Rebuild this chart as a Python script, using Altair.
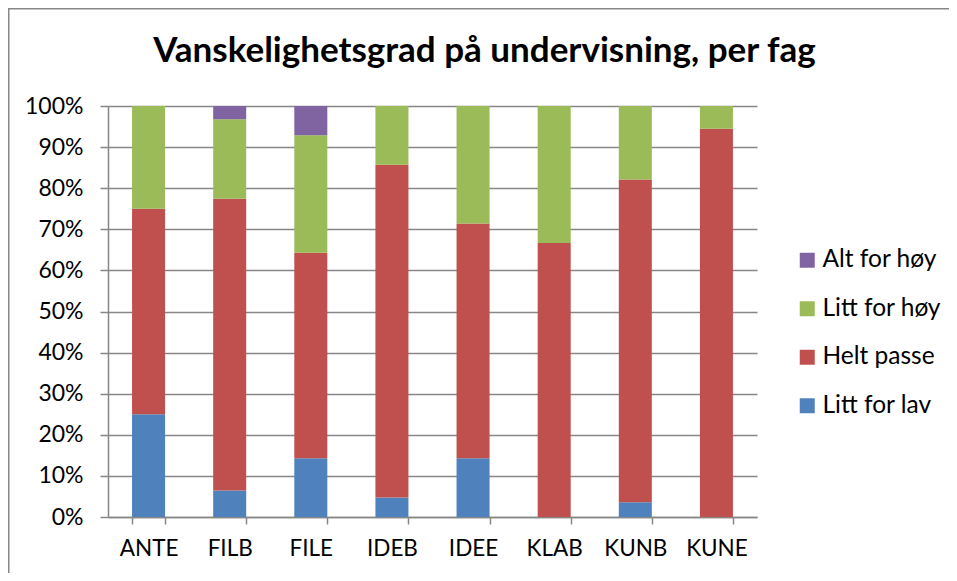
import altair as alt
import pandas as pd

categories = ["ANTE", "FILB", "FILE", "IDEB", "IDEE", "KLAB", "KUNB", "KUNE"]
litt_for_lav = [25.0, 6.45, 14.29, 4.76, 14.29, 0.0, 3.57, 0.0]
helt_passe = [50.0, 70.97, 50.0, 80.95, 57.14, 66.67, 78.57, 94.44]
litt_for_hoy = [25.0, 19.35, 28.57, 14.29, 28.57, 33.33, 17.86, 5.56]
alt_for_hoy = [0.0, 3.23, 7.14, 0.0, 0.0, 0.0, 0.0, 0.0]
series_names = ["Litt for lav", "Helt passe", "Litt for høy", "Alt for høy"]
series_colors = ["#4F81BD", "#C0504D", "#9BBB59", "#8064A2"]
title_text = "Vanskelighetsgrad på undervisning, per fag"

rows = []
for k, (name, vals) in enumerate(zip(series_names, [litt_for_lav, helt_passe, litt_for_hoy, alt_for_hoy])):
    for c, v in zip(categories, vals):
        rows.append({"fag": c, "svar": name, "andel": v, "rekke": k})
df = pd.DataFrame(rows)

W, H = 649, 411
FONT = "Lato"
GRID = "#878787"

bars = alt.Chart(df).mark_bar().encode(
    x=alt.X("fag:N", sort=categories, title=None,
            scale=alt.Scale(paddingInner=0.593, paddingOuter=0.2965),
            axis=alt.Axis(labelAngle=0, tickBand="extent", tickSize=7, tickColor=GRID,
                          tickWidth=1.5, domainColor=GRID, domainWidth=1.5,
                          labelFont=FONT, labelFontSize=22.5, labelColor="black",
                          labelPadding=13, grid=False)),
    y=alt.Y("andel:Q", stack="normalize", title=None,
            scale=alt.Scale(domain=[0, 1]),
            axis=alt.Axis(format=".0%", values=[i / 10 for i in range(11)],
                          tickSize=8, tickColor=GRID, tickWidth=1.5,
                          domainColor=GRID, domainWidth=1.5,
                          gridColor=GRID, gridWidth=1.5,
                          labelFont=FONT, labelFontSize=23, labelColor="black",
                          labelPadding=17)),
    color=alt.Color("svar:N",
                    scale=alt.Scale(domain=series_names[::-1], range=series_colors[::-1]),
                    legend=alt.Legend(title=None, orient="none", legendX=687, legendY=142,
                                      symbolType="square", symbolSize=225,
                                      symbolStrokeWidth=0, labelFont=FONT,
                                      labelFontSize=24.5, labelColor="black",
                                      rowPadding=23.5, labelOffset=3, padding=0)),
    order=alt.Order("rekke:Q", sort="ascending"),
)

one = pd.DataFrame({"a": [0]})
title_mark = alt.Chart(one).mark_text(
    font=FONT, fontSize=35, fontWeight="bold", color="black",
    align="center", baseline="alphabetic").encode(
    x=alt.value(W / 2 + 52), y=alt.value(-44), text=alt.value(title_text))
border_top = alt.Chart(one).mark_rule(color="#878787", strokeWidth=2).encode(
    x=alt.value(-100), x2=alt.value(W + 200), y=alt.value(-97.5))
border_left = alt.Chart(one).mark_rule(color="#878787", strokeWidth=2).encode(
    x=alt.value(-99.5), y=alt.value(-98), y2=alt.value(H + 70))

chart = alt.layer(bars, title_mark, border_top, border_left).properties(
    width=W, height=H,
    padding={"left": 100, "top": 98, "right": 192, "bottom": 56},
    autosize=alt.AutoSizeParams(type="none"),
).configure_view(stroke=None)

chart.save("out.html", embed_options={"renderer": "svg", "actions": False})
